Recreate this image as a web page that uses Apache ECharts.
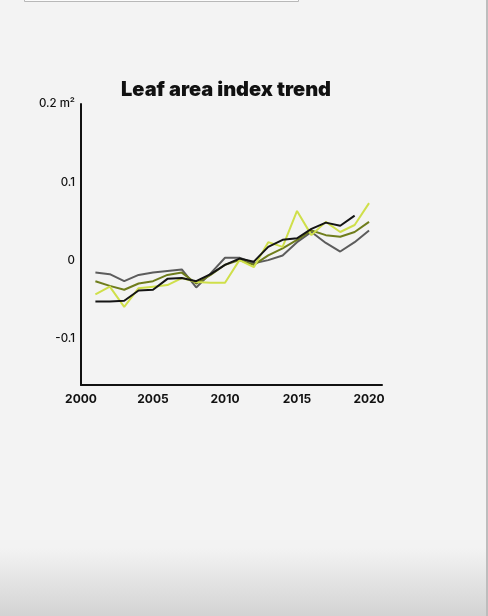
<!DOCTYPE html>
<html>
<head>
<meta charset="utf-8">
<script src="https://cdn.jsdelivr.net/npm/echarts@6/dist/echarts.min.js"></script>
<style>
  html, body { margin: 0; padding: 0; background: #f3f3f3; }
  #chart { width: 488px; height: 616px; }
</style>
</head>
<body>
<div id="chart"></div>
<script>
// Years of the series
const years = [2001,2002,2003,2004,2005,2006,2007,2008,2009,2010,2011,2012,2013,2014,2015,2016,2017,2018,2019,2020];
// Leaf area index anomaly (m²) per series
const seriesGray  = [-0.016,-0.018,-0.027,-0.019,-0.016,-0.014,-0.012,-0.035,-0.017,0.003,0.003,-0.004,0.000,0.006,0.023,0.036,0.022,0.011,0.023,0.038];
const seriesOlive = [-0.027,-0.033,-0.038,-0.030,-0.027,-0.019,-0.016,-0.030,-0.019,-0.006,0.000,-0.006,0.006,0.015,0.026,0.038,0.032,0.030,0.036,0.049];
const seriesLime  = [-0.044,-0.034,-0.060,-0.036,-0.034,-0.032,-0.023,-0.028,-0.029,-0.029,0.000,-0.009,0.023,0.017,0.063,0.032,0.049,0.036,0.045,0.073];
const seriesBlack = [-0.053,-0.053,-0.052,-0.039,-0.038,-0.024,-0.023,-0.027,-0.018,-0.006,0.002,-0.002,0.017,0.026,0.028,0.040,0.048,0.044,0.057];
const xTickYears = [2000, 2005, 2010, 2015, 2020];
const yTickLabels = {"0.2": "0.2 m²", "0.1": "0.1", "0": "0", "-0.1": "-0.1"};

function pairs(vals) { return vals.map((v, i) => [years[i], v]); }

const chart = echarts.init(document.getElementById('chart'), null, { renderer: 'canvas' });
const lineCommon = { type: 'line', showSymbol: false, symbol: 'none', smooth: false, z: 3 };

chart.setOption({
  backgroundColor: 'transparent',
  animation: false,
  title: {
    text: 'Leaf area index trend',
    left: 116, top: 75,
    textStyle: { fontFamily: 'Inter', fontWeight: 900, fontSize: 20, color: '#111' }
  },
  graphic: [
    { type: 'rect', left: 0, top: 548, shape: { width: 488, height: 68 },
      style: { fill: new echarts.graphic.LinearGradient(0, 0, 0, 1, [
        { offset: 0, color: '#f3f3f3' }, { offset: 1, color: '#d3d3d3' }]) }, z: -1 },
    { type: 'rect', left: 24, top: -2, shape: { width: 274, height: 3 },
      style: { fill: '#fbfbfb', stroke: '#b8b8b8', lineWidth: 1 }, z: 5 },
    { type: 'rect', left: 486, top: 0, shape: { width: 2, height: 616 },
      style: { fill: '#bdbdbd' }, z: 5 }
  ],
  grid: { left: 81, top: 104, right: 106, bottom: 231, containLabel: false },
  xAxis: {
    type: 'value', min: 2000, max: 2020.9, interval: 1,
    axisLine: { show: true, onZero: false, lineStyle: { color: '#111', width: 2 } },
    axisTick: { show: false },
    splitLine: { show: false },
    axisLabel: {
      margin: 8, color: '#111', fontFamily: 'Inter', fontWeight: 700, fontSize: 12,
      showMaxLabel: false,
      formatter: v => xTickYears.indexOf(Math.round(v)) >= 0 && Math.abs(v - Math.round(v)) < 1e-6 ? String(Math.round(v)) : ''
    }
  },
  yAxis: {
    type: 'value', min: -0.16, max: 0.2, interval: 0.02,
    axisLine: { show: true, onZero: false, lineStyle: { color: '#111', width: 2 } },
    axisTick: { show: false },
    splitLine: { show: false },
    axisLabel: {
      margin: 6, color: '#111', fontFamily: 'Inter', fontWeight: 500, fontSize: 11.5,
      formatter: v => {
        const k = String(Math.round(v * 10) / 10);
        return Math.abs(v * 10 - Math.round(v * 10)) < 1e-6 && yTickLabels[k] !== undefined ? yTickLabels[k] : '';
      }
    }
  },
  series: [
    Object.assign({ name: 'gray',  data: pairs(seriesGray),  lineStyle: { color: '#5c5c5c', width: 2 } }, lineCommon),
    Object.assign({ name: 'olive', data: pairs(seriesOlive), lineStyle: { color: '#6f7d1c', width: 2 } }, lineCommon),
    Object.assign({ name: 'lime',  data: pairs(seriesLime),  lineStyle: { color: '#cfdf4a', width: 2 } }, lineCommon),
    Object.assign({ name: 'black', data: pairs(seriesBlack), lineStyle: { color: '#141414', width: 2 } }, lineCommon)
  ]
});
</script>
</body>
</html>
